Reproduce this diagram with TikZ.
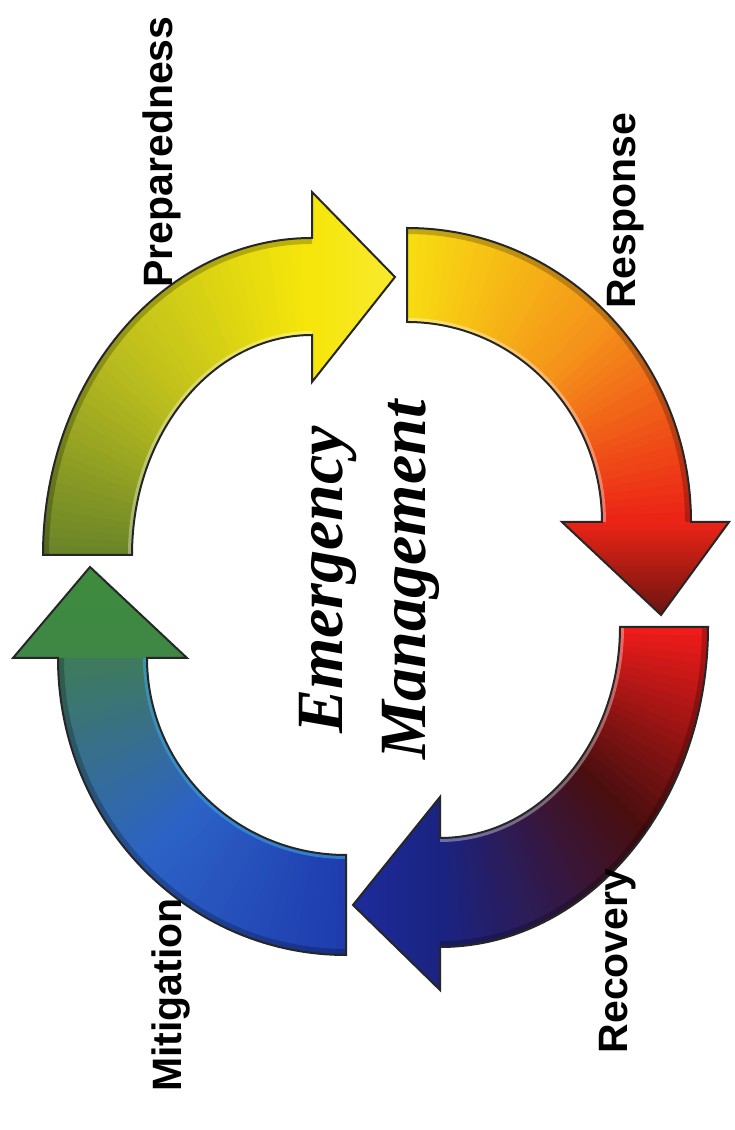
\documentclass[tikz,border=0pt]{standalone}
\usepackage{fontspec}
\setmainfont{Liberation Sans}
\newfontfamily\emfont{Liberation Serif}
\usetikzlibrary{calc}
\definecolor{PrepOlive} {HTML}{6A8428}
\definecolor{PrepLime}  {HTML}{B9BC1E}
\definecolor{PrepYellow}{HTML}{F6E60A}
\definecolor{RespYellow}{HTML}{F8DC12}
\definecolor{RespOrange}{HTML}{F4921A}
\definecolor{RespRed}   {HTML}{EC2416}
\definecolor{RespDark}  {HTML}{6A1410}
\definecolor{RecRed}    {HTML}{EE1C1A}
\definecolor{RecBrown}  {HTML}{4A0E0E}
\definecolor{RecNavy}   {HTML}{1B2380}
\definecolor{RecBlue}   {HTML}{1C2C9C}
\definecolor{MitBlue}   {HTML}{1E3CAE}
\definecolor{MitSky}    {HTML}{2C62C6}
\definecolor{MitTeal}   {HTML}{3F7A5E}
\definecolor{MitGreen}  {HTML}{3E8C3C}
\definecolor{MitCyan}   {HTML}{3AA4E0}

% outline of one quarter-ring arrow:
% centre x, centre y, tail angle, head angle, outer rx, ry, inner rx, ry, name
\newcommand{\arrowpath}[9]{%
  ({#1+#5*cos(#3)},{#2+#6*sin(#3)})
  arc[start angle=#3, end angle=#4, x radius=#5pt, y radius=#6pt]
  -- (#9-ho) -- (#9-tip) -- (#9-hi)
  -- ({#1+#7*cos(#4)},{#2+#8*sin(#4)})
  arc[start angle=#4, end angle=#3, x radius=#7pt, y radius=#8pt]
  -- cycle}

% shaft colour run shA -> shB -> shC, in thin wedges
\newcommand{\shaftfill}[4]{%
  \foreach \k in {0,...,44} {
    \pgfmathsetmacro{\angA}{#3+(#4-#3)*\k/45}
    \pgfmathsetmacro{\angB}{#3+(#4-#3)*(\k+1.6)/45}
    \pgfmathtruncatemacro{\mixA}{max(0,100-200*\k/44)}
    \pgfmathtruncatemacro{\mixB}{min(100,200-200*\k/44)}
    \colorlet{slicecol}{shA!\mixA!shB!\mixB!shC}
    \fill[slicecol] (#1,#2) -- +(\angA:460) -- +(\angB:460) -- cycle;
  }}

\begin{document}
\begin{tikzpicture}[
  x=1pt, y=1pt,
  outl/.style  ={draw=black!85, line width=2pt, line join=miter},
  gloss/.style ={white, opacity=0.35, line width=8pt},
  shadow/.style={black, opacity=0.22, line width=12pt},
  lbl/.style   ={rotate=90, inner sep=0pt,
                 font=\fontsize{41}{48}\selectfont\bfseries},
  centre/.style={rotate=90, inner sep=0pt, align=center,
                 font=\emfont\fontsize{66}{83}\selectfont\bfseries\itshape}
]
\fill[white] (0,0) rectangle (734,1130);
\useasboundingbox (0,0) rectangle (734,1130);

% preparedness
\colorlet{shA}{PrepOlive}\colorlet{shB}{PrepLime}\colorlet{shC}{PrepYellow}
\coordinate (prep-ho)  at (312,938);
\coordinate (prep-tip) at (395,853);
\coordinate (prep-hi)  at (312,748);
\begin{scope}
  \clip \arrowpath{312}{575}{180}{90}{269}{317}{180}{220}{prep};
  \shaftfill{312}{575}{180}{90}
  \shade[left color=PrepYellow, right color=PrepYellow!85!white]
    (prep-ho) -- (prep-tip) -- (prep-hi) -- cycle;
  \draw[shadow] (43,575) arc[start angle=180, end angle=90, x radius=269pt, y radius=317pt];
  \draw[gloss] (132,575) arc[start angle=180, end angle=90, x radius=180pt, y radius=220pt];
\end{scope}
\draw[outl] \arrowpath{312}{575}{180}{90}{269}{317}{180}{220}{prep};

% response
\colorlet{shA}{RespYellow}\colorlet{shB}{RespOrange}\colorlet{shC}{RespRed}
\coordinate (resp-ho)  at (729,608);
\coordinate (resp-tip) at (661,515);
\coordinate (resp-hi)  at (562,608);
\begin{scope}
  \clip \arrowpath{407}{608}{90}{0}{284}{294}{195}{200}{resp};
  \shaftfill{407}{608}{90}{0}
  \shade[top color=RespRed, middle color=RespRed!75!RespDark, bottom color=RespDark]
    (resp-ho) -- (resp-tip) -- (resp-hi) -- cycle;
  \draw[shadow] (407,902) arc[start angle=90, end angle=0, x radius=284pt, y radius=294pt];
  \draw[gloss] (407,808) arc[start angle=90, end angle=0, x radius=195pt, y radius=200pt];
\end{scope}
\draw[outl] \arrowpath{407}{608}{90}{0}{284}{294}{195}{200}{resp};

% recovery
\colorlet{shA}{RecRed}\colorlet{shB}{RecBrown}\colorlet{shC}{RecNavy}
\coordinate (rec-ho)  at (440,140);
\coordinate (rec-tip) at (353,225);
\coordinate (rec-hi)  at (440,333);
\begin{scope}
  \clip \arrowpath{440}{503}{0}{-90}{268}{320}{180}{211}{rec};
  \shaftfill{440}{503}{0}{-90}
  \shade[right color=RecNavy, left color=RecBlue]
    (rec-ho) -- (rec-tip) -- (rec-hi) -- cycle;
  \draw[shadow] (708,503) arc[start angle=0, end angle=-90, x radius=268pt, y radius=320pt];
  \draw[gloss] (620,503) arc[start angle=0, end angle=-90, x radius=180pt, y radius=211pt];
\end{scope}
\draw[outl] \arrowpath{440}{503}{0}{-90}{268}{320}{180}{211}{rec};

% mitigation
\colorlet{shA}{MitBlue}\colorlet{shB}{MitSky}\colorlet{shC}{MitTeal}
\coordinate (mit-ho)  at (13,472);
\coordinate (mit-tip) at (90,563);
\coordinate (mit-hi)  at (187,472);
\begin{scope}
  \clip \arrowpath{346}{472}{-90}{-180}{288}{297}{199}{197}{mit};
  \shaftfill{346}{472}{-90}{-180}
  \shade[bottom color=MitGreen!70!MitTeal, top color=MitGreen]
    (mit-ho) -- (mit-tip) -- (mit-hi) -- cycle;
  \draw[shadow] (346,175) arc[start angle=-90, end angle=-180, x radius=288pt, y radius=297pt];
  \draw[gloss, MitCyan, opacity=0.6] (346,275) arc[start angle=-90, end angle=-180, x radius=199pt, y radius=197pt];
\end{scope}
\draw[outl] \arrowpath{346}{472}{-90}{-180}{288}{297}{199}{197}{mit};

% phase labels
\node[lbl] (prep) at (162,978) {Preparedness};
\node[lbl] (resp) at (626,919) {Response};
\node[lbl] (rec)  at (618,169) {Recovery};
\node[lbl] (mit)  at (171,135) {Mitigation};

% centre title
\node[centre] (em) at (369,550) {Emergency\\Management};
\end{tikzpicture}
\end{document}
